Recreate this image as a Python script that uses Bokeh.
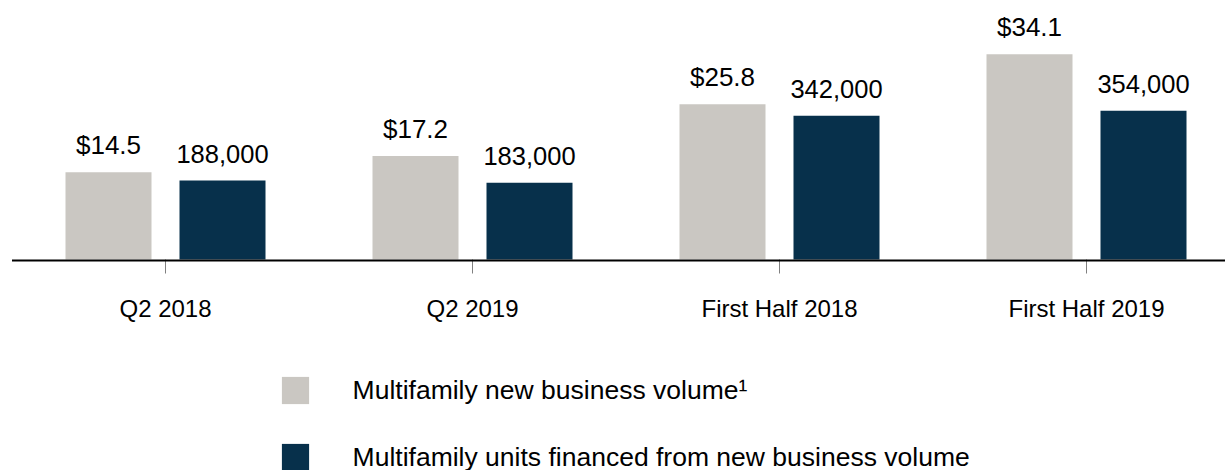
from bokeh.plotting import figure
from bokeh.models import Range1d, Legend, LegendItem, ColumnDataSource
from bokeh.core.properties import value
from bokeh.embed import file_html
from bokeh.resources import INLINE

# ---- data ----
categories = ["Q2 2018", "Q2 2019", "First Half 2018", "First Half 2019"]
volume_billions = [14.5, 17.2, 25.8, 34.1]
units_financed = [188000, 183000, 342000, 354000]
volume_labels = ["$14.5", "$17.2", "$25.8", "$34.1"]
units_labels = ["188,000", "183,000", "342,000", "354,000"]
legend_labels = ["Multifamily new business volume\u00b9",
                 "Multifamily units financed from new business volume"]

# ---- styling / layout constants ----
GRAY = "#CAC7C2"
NAVY = "#07304B"
FONT = "Liberation Sans"
W, H = 1225, 470
CAT_PX = 307.0              # pixels per category
LEFT_PAD = 11.5             # px between frame left and first category edge
BASE_FROM_TOP = 259.0       # baseline pixel distance from frame top
BASE_FROM_BOTTOM = H - BASE_FROM_TOP
K_VOL = 6.02                # px per $billion
K_UNITS = 0.000420          # px per unit

x0 = -LEFT_PAD / CAT_PX
p = figure(width=W, height=H, output_backend="svg", toolbar_location=None,
           x_range=Range1d(x0, x0 + W / CAT_PX),
           y_range=Range1d(-BASE_FROM_BOTTOM / K_VOL, BASE_FROM_TOP / K_VOL),
           min_border=0, min_border_left=0, min_border_right=0,
           min_border_top=0, min_border_bottom=0)
p.extra_y_ranges = {"units": Range1d(-BASE_FROM_BOTTOM / K_UNITS, BASE_FROM_TOP / K_UNITS)}
p.axis.visible = False
p.grid.visible = False
p.outline_line_color = None
p.background_fill_color = "white"
p.border_fill_color = "white"

n = len(categories)
centers = [i + 0.5 for i in range(n)]
off = 57.0 / CAT_PX
bw = 86.0 / CAT_PX

src = ColumnDataSource(dict(
    xg=[c - off for c in centers], xn=[c + off for c in centers],
    vol=volume_billions, units=units_financed,
    vl=volume_labels, ul=units_labels,
    xc=centers, cat=categories, zero=[0] * n,
    tick_end=[-14.0 / K_VOL] * n,
))

r_gray = p.vbar(x="xg", top="vol", bottom=0, width=bw, source=src,
                fill_color=GRAY, line_color=None)
r_navy = p.vbar(x="xn", top="units", bottom=0, width=bw, source=src,
                fill_color=NAVY, line_color=None, y_range_name="units")

# value labels
p.text(x="xg", y="vol", text="vl", source=src, text_align="center",
       text_baseline="alphabetic", y_offset=-27, text_font=value(FONT),
       text_font_size="26px", text_color="#000000")
p.text(x="xn", y="units", text="ul", source=src, text_align="center",
       text_baseline="alphabetic", y_offset=-27, text_font=value(FONT),
       text_font_size="25.5px", text_color="#000000", y_range_name="units")

# category axis: ticks, line, labels
p.segment(x0="xc", y0="zero", x1="xc", y1="tick_end", source=src,
          line_color="#808080", line_width=1)
p.segment(x0=[0], y0=[-1.0 / K_VOL], x1=[float(n)], y1=[-1.0 / K_VOL],
          line_color="#000000", line_width=2)
p.text(x="xc", y="zero", text="cat", source=src, text_align="center",
       text_baseline="alphabetic", y_offset=49, text_font=value(FONT),
       text_font_size="24px", text_color="#000000")

legend = Legend(items=[LegendItem(label=legend_labels[0], renderers=[r_gray]),
                       LegendItem(label=legend_labels[1], renderers=[r_navy])],
                location=(277.6, -4), orientation="vertical",
                glyph_width=34, glyph_height=34, label_standoff=41,
                spacing=33, padding=0, margin=0,
                border_line_color=None, background_fill_alpha=0,
                label_text_font=FONT, label_text_font_size="26.5px",
                label_text_color="#000000")
p.add_layout(legend)

open("out.html", "w").write(file_html(p, INLINE))
